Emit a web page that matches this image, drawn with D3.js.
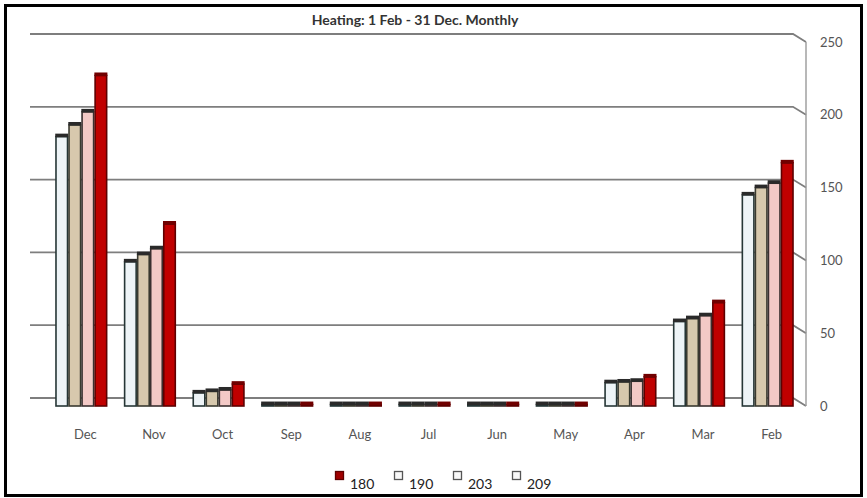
<!DOCTYPE html>
<html>
<head>
<meta charset="utf-8">
<script src="https://cdn.jsdelivr.net/npm/d3@7"></script>
<style>
  html, body { margin: 0; padding: 0; background: #fff; }
  svg { display: block; font-family: Lato, "Open Sans", sans-serif; }
</style>
</head>
<body>
<svg id="chart" width="867" height="498"></svg>
<script>
// Heating demand per month, four cases
const months = ["Dec", "Nov", "Oct", "Sep", "Aug", "Jul", "Jun", "May", "Apr", "Mar", "Feb"];
const seriesNames = ["180", "190", "203", "209"];
const s180 = [227, 125, 15, 1, 1, 1, 1, 1, 20, 71, 167];
const s190 = [202, 108, 11, 1, 1, 1, 1, 1, 17, 62, 153];
const s203 = [193, 104, 10, 1, 1, 1, 1, 1, 16.5, 60, 150];
const s209 = [185, 99, 9, 1, 1, 1, 1, 1, 16, 58, 145];
const yTicks = [0, 50, 100, 150, 200, 250];
const titleText = "Heating: 1 Feb - 31 Dec. Monthly";

const values = { "180": s180, "190": s190, "203": s203, "209": s209 };
const fills = { "180": "#c00000", "190": "#f3c9c6", "203": "#d7c8ad", "209": "#eef4f7" };
const strokes = { "180": "#5e0000", "190": "#3a3030", "203": "#3a3a30", "209": "#263636" };

const svg = d3.select("#chart");

// outer frame
svg.append("rect")
  .attr("x", 5.5).attr("y", 5.5).attr("width", 856).attr("height", 490)
  .attr("fill", "#fff").attr("stroke", "#000").attr("stroke-width", 3);

const x = d3.scaleBand().domain(months).range([47, 802]).paddingInner(0.24).paddingOuter(0.12);
// reversed month axis also reverses the series within each cluster
const x1 = d3.scaleBand().domain(seriesNames.slice().reverse()).range([0, x.bandwidth()]);
const y = d3.scaleLinear().domain([0, 250]).range([406, 42]);
const depth = 8, wallLeft = 30, wallRight = 793, axisX = 806;

// back-wall gridlines bending onto the side wall
const grid = svg.append("g");
yTicks.forEach(v => {
  grid.append("path")
    .attr("d", `M${wallLeft},${y(v) - depth}H${wallRight}L${axisX},${y(v)}`)
    .attr("fill", "none").attr("stroke", "#7e7e7e").attr("stroke-width", 1.8);
});
svg.append("line")
  .attr("x1", axisX).attr("x2", axisX).attr("y1", y(250)).attr("y2", y(0))
  .attr("stroke", "#9a9a9a").attr("stroke-width", 1.4);

// right value axis
const yAxis = d3.axisRight(y).tickValues(yTicks).tickSize(0).tickPadding(14);
const ya = svg.append("g").attr("transform", `translate(${axisX},0)`).call(yAxis);
ya.select(".domain").remove();
ya.selectAll("text").attr("font-size", 13).attr("fill", "#555").attr("font-family", "Lato, sans-serif");

// bars
const groups = svg.append("g").selectAll("g").data(months).join("g")
  .attr("transform", d => `translate(${x(d)},0)`);

groups.each(function(m, i) {
  const g = d3.select(this);
  x1.domain().forEach(s => {
    const v = values[s][i];
    const bx = x1(s), bw = x1.bandwidth();
    const top = y(v), bottom = y(0);
    g.append("rect")
      .attr("x", bx + 0.75).attr("y", top).attr("width", bw - 1.5).attr("height", bottom - top)
      .attr("fill", fills[s]).attr("stroke", strokes[s]).attr("stroke-width", 1.6);
    // dark top face of the column
    g.append("rect")
      .attr("x", bx).attr("y", top - 3).attr("width", bw).attr("height", 3.5)
      .attr("fill", s === "180" ? "#700000" : "#2a2a2a");
  });
});

// month labels
const xAxis = d3.axisBottom(x).tickSize(0).tickPadding(0);
const xa = svg.append("g").attr("transform", `translate(4,${y(0) + 24})`).call(xAxis);
xa.select(".domain").remove();
xa.selectAll("text").attr("font-size", 13).attr("fill", "#555").attr("font-family", "Lato, sans-serif");

// title
svg.append("text")
  .attr("x", 415).attr("y", 25).attr("text-anchor", "middle")
  .attr("font-size", 14).attr("font-weight", "bold").attr("fill", "#333")
  .text(titleText);

// legend
const legend = svg.append("g").attr("transform", "translate(335,0)");
seriesNames.forEach((s, i) => {
  const lx = i * 59;
  legend.append("rect")
    .attr("x", lx + 0.5).attr("y", 471.5).attr("width", 8).attr("height", 8)
    .attr("fill", s === "180" ? "#a00000" : "#f8f8f8")
    .attr("stroke", s === "180" ? "#5e0000" : "#555").attr("stroke-width", 1.3);
  legend.append("text")
    .attr("x", lx + 15).attr("y", 489)
    .attr("font-size", 14).attr("fill", "#222")
    .text(s);
});
</script>
</body>
</html>
